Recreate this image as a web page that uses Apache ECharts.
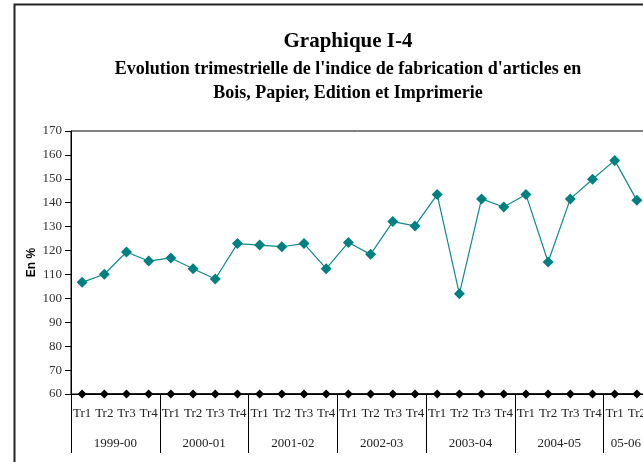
<!DOCTYPE html>
<html>
<head>
<meta charset="utf-8">
<script src="https://cdn.jsdelivr.net/npm/echarts@6/dist/echarts.min.js"></script>
<style>
html,body{margin:0;padding:0;background:#fff;}
#chart{width:643px;height:462px;}
</style>
</head>
<body>
<div id="chart"></div>
<script>
var quarters = ['Tr1','Tr2','Tr3','Tr4','Tr1','Tr2','Tr3','Tr4','Tr1','Tr2','Tr3','Tr4','Tr1','Tr2','Tr3','Tr4','Tr1','Tr2','Tr3','Tr4','Tr1','Tr2','Tr3','Tr4','Tr1','Tr2'];
var indexValues = [106.7,110.1,119.4,115.6,116.9,112.4,108.1,122.9,122.3,121.6,122.9,112.4,123.4,118.4,132.1,130.3,143.4,101.9,141.6,138.2,143.4,115.2,141.6,149.8,157.7,141.0];
var baselineValues = [60,60,60,60,60,60,60,60,60,60,60,60,60,60,60,60,60,60,60,60,60,60,60,60,60,60];
var groups = ['1999-00','2000-01','2001-02','2002-03','2003-04','2004-05','05-06'];
var groupSizes = [4,4,4,4,4,4,2];

var yMin = 60, yMax = 170, yStep = 10;

// group centres in quarter units
var groupCenters = {}, acc = 0;
groupSizes.forEach(function (s, i) { groupCenters[acc + s / 2] = groups[i]; acc += s; });
var totalQ = acc;

var serif = '"Liberation Serif", "Times New Roman", serif';
var chart = echarts.init(document.getElementById('chart'), null, {renderer: 'canvas'});
chart.setOption({
  animation: false,
  backgroundColor: '#fff',
  title: [{
    text: 'Graphique I-4',
    left: 343, textAlign: 'center', top: 26,
    textStyle: {fontFamily: serif, fontWeight: 'bold', fontSize: 21, color: '#000'}
  }, {
    text: "Evolution trimestrielle de l'indice de fabrication d'articles en\nBois, Papier, Edition et Imprimerie",
    left: 343, textAlign: 'center', top: 52,
    textStyle: {fontFamily: serif, fontWeight: 'bold', fontSize: 18, color: '#000', lineHeight: 24}
  }],
  graphic: [{
    type: 'rect', left: 12, top: 2, silent: true,
    shape: {width: 700, height: 520},
    style: {fill: 'none', stroke: '#222', lineWidth: 2}
  }],
  grid: {left: 71, top: 131, width: 577, bottom: 68, outerBoundsMode: 'none', containLabel: false,
         show: true, borderColor: '#000', borderWidth: 1, backgroundColor: 'transparent'},
  xAxis: [{
    type: 'category', data: quarters, boundaryGap: true, position: 'bottom',
    axisLine: {lineStyle: {color: '#000', width: 1}},
    axisTick: {show: false},
    axisLabel: {interval: 0, margin: 13, fontFamily: serif, fontSize: 13, color: '#222'}
  }, {
    type: 'value', min: 0, max: totalQ, interval: 4, position: 'bottom',
    axisLine: {show: false},
    axisTick: {show: true, length: 59, lineStyle: {color: '#000', width: 1}},
    axisLabel: {show: false},
    splitLine: {show: false}
  }, {
    type: 'value', min: 0, max: totalQ, interval: 1, position: 'bottom',
    axisLine: {show: false}, axisTick: {show: false}, splitLine: {show: false},
    axisLabel: {
      margin: 43, fontFamily: serif, fontSize: 13, color: '#222', showMinLabel: true, showMaxLabel: true,
      formatter: function (v) { return groupCenters[v] || ''; }
    }
  }],
  yAxis: {
    type: 'value', min: yMin, max: yMax, interval: yStep,
    name: 'En %', nameLocation: 'middle', nameGap: 33, nameRotate: 90, nameMoveOverlap: false,
    nameTextStyle: {fontFamily: '"Liberation Sans", Arial, sans-serif', fontWeight: 'bold', fontSize: 12, color: '#000'},
    axisLine: {show: true, lineStyle: {color: '#000', width: 1}},
    axisTick: {show: true, length: 6, lineStyle: {color: '#000'}},
    axisLabel: {fontFamily: serif, fontSize: 13, color: '#333', margin: 9},
    splitLine: {show: false}
  },
  series: [{
    type: 'line', data: baselineValues, xAxisIndex: 0,
    symbol: 'diamond', symbolSize: 9, showAllSymbol: true,
    itemStyle: {color: '#000'}, lineStyle: {color: '#000', width: 1.5},
    clip: false, z: 3
  }, {
    type: 'line', data: indexValues, xAxisIndex: 0,
    symbol: 'diamond', symbolSize: 11, showAllSymbol: true,
    itemStyle: {color: '#008080'}, lineStyle: {color: '#108a8a', width: 1.2},
    clip: false, z: 4
  }]
});
</script>
</body>
</html>
